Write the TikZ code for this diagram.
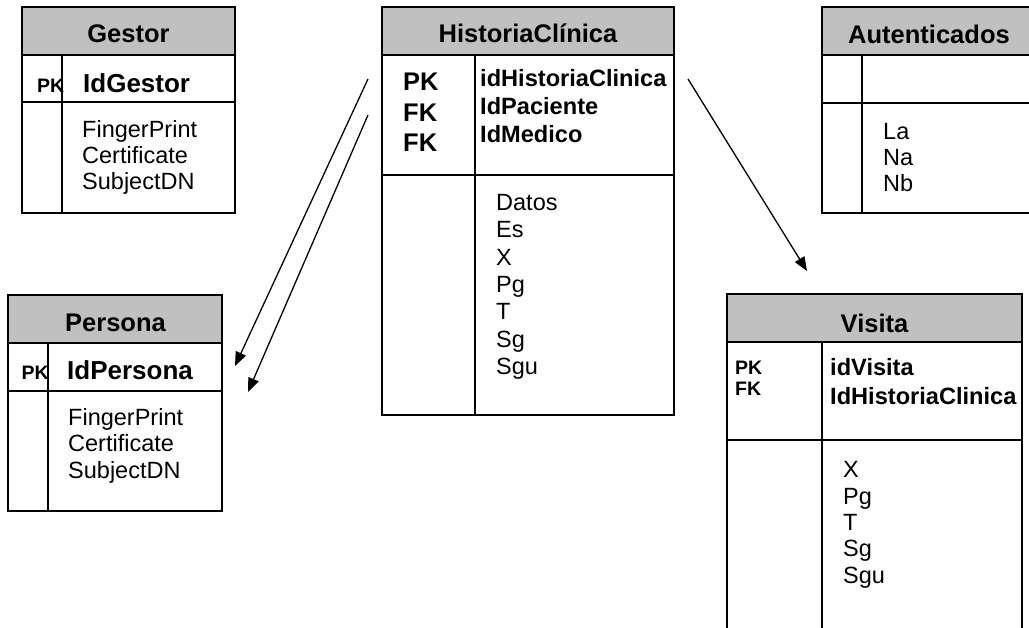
\documentclass[tikz,border=0pt]{standalone}
\usepackage{fontspec}
\setmainfont{Liberation Sans}
\usetikzlibrary{arrows.meta}
\definecolor{headgray}{RGB}{192,192,192}

\begin{document}
\begin{tikzpicture}[x=1pt,y=-1pt,
  rule/.style={draw=black, line width=1.8pt},
  box/.style={rule, anchor=north west, inner sep=0, outer sep=0},
  head/.style={box, fill=headgray},
  ttl/.style={anchor=base, inner sep=0, font=\fontsize{25.5}{30}\selectfont\bfseries},
  smallkey/.style={anchor=base west, inner sep=0, font=\fontsize{19.5}{23}\selectfont\bfseries},
  bigkey/.style={anchor=base west, inner sep=0, font=\fontsize{25.5}{30}\selectfont\bfseries},
  idbig/.style={anchor=base west, inner sep=0, font=\fontsize{26}{30}\selectfont\bfseries},
  idmid/.style={anchor=base west, inner sep=0, font=\fontsize{23.6}{28}\selectfont\bfseries},
  attr/.style={anchor=base west, inner sep=0, font=\fontsize{23.5}{26}\selectfont},
  link/.style={line width=1.3pt, -{Triangle[length=14pt,width=11pt]}},
]
\useasboundingbox (0,0) rectangle (1029,628);
\clip (0,0) rectangle (1029,628);
\fill[white] (0,0) rectangle (1029,628);

% ---- Gestor ----
\node[box, minimum width=213pt, minimum height=206pt] (gestor) at (22,7) {};
\node[head, minimum width=213pt, minimum height=48pt] (gestor-head) at (22,7) {};
\draw[rule] (22,102) -- (235,102);
\draw[rule] (62,55) -- (62,213);
\node[ttl] (gestor-title) at (128.5,42.5) {Gestor};
\node[smallkey] (gestor-pk) at (37,92.5) {PK};
\node[idbig] (gestor-id) at (83,92.5) {IdGestor};
\foreach \t [count=\i] in {FingerPrint,Certificate,SubjectDN}
  \node[attr] (gestor-a\i) at (82,112+26*\i) {\t};

% ---- HistoriaClínica ----
\node[box, minimum width=292pt, minimum height=408pt] (hc) at (382,7) {};
\node[head, minimum width=292pt, minimum height=48pt] (hc-head) at (382,7) {};
\draw[rule] (382,175) -- (674,175);
\draw[rule] (475,55) -- (475,415);
\node[ttl] (hc-title) at (528,43) {HistoriaClínica};
\foreach \t [count=\i] in {PK,FK,FK}
  \node[bigkey] (hc-k\i) at (403,60.5+30.5*\i) {\t};
\foreach \t [count=\i] in {idHistoriaClinica,IdPaciente,IdMedico}
  \node[idmid] (hc-id\i) at (480,59+28*\i) {\t};
\foreach \t [count=\i] in {Datos,Es,X,Pg,T,Sg,Sgu}
  \node[attr] (hc-a\i) at (496,183+27.4*\i) {\t};

% ---- Autenticados ----
\node[box, minimum width=214pt, minimum height=206pt] (aut) at (822,7) {};
\node[head, minimum width=214pt, minimum height=48pt] (aut-head) at (822,7) {};
\draw[rule] (822,103) -- (1036,103);
\draw[rule] (862,55) -- (862,213);
\node[ttl] (aut-title) at (929,43.5) {Autenticados};
\foreach \t [count=\i] in {La,Na,Nb}
  \node[attr] (aut-a\i) at (883,114+26*\i) {\t};

% ---- Persona ----
\node[box, minimum width=214pt, minimum height=216pt] (per) at (8,295) {};
\node[head, minimum width=214pt, minimum height=48pt] (per-head) at (8,295) {};
\draw[rule] (8,391) -- (222,391);
\draw[rule] (48,343) -- (48,511);
\node[ttl] (per-title) at (115.5,332) {Persona};
\node[smallkey] (per-pk) at (21.5,380) {PK};
\node[idbig] (per-id) at (67,380) {IdPersona};
\foreach \t [count=\i] in {FingerPrint,Certificate,SubjectDN}
  \node[attr] (per-a\i) at (68,399+26.5*\i) {\t};

% ---- Visita ----
\node[box, minimum width=295pt, minimum height=346pt] (vis) at (727,294) {};
\node[head, minimum width=295pt, minimum height=48pt] (vis-head) at (727,294) {};
\draw[rule] (727,440) -- (1022,440);
\draw[rule] (822,342) -- (822,640);
\node[ttl] (vis-title) at (874.5,332.5) {Visita};
\node[smallkey] (vis-k1) at (735,375) {PK};
\node[smallkey] (vis-k2) at (735,396) {FK};
\node[idmid] (vis-id1) at (830,376) {idVisita};
\node[idmid] (vis-id2) at (830,405) {IdHistoriaClinica};
\foreach \t [count=\i] in {X,Pg,T,Sg,Sgu}
  \node[attr] (vis-a\i) at (843,451.5+26.3*\i) {\t};

% ---- relationships ----
\coordinate (fk1-from) at (368,79);
\coordinate (fk1-to) at (235,366);
\coordinate (fk2-from) at (368,115);
\coordinate (fk2-to) at (248,392);
\coordinate (vis-from) at (688,79);
\coordinate (vis-to) at (807,271);
\draw[link] (fk1-from) -- (fk1-to);
\draw[link] (fk2-from) -- (fk2-to);
\draw[link] (vis-from) -- (vis-to);
\end{tikzpicture}
\end{document}
